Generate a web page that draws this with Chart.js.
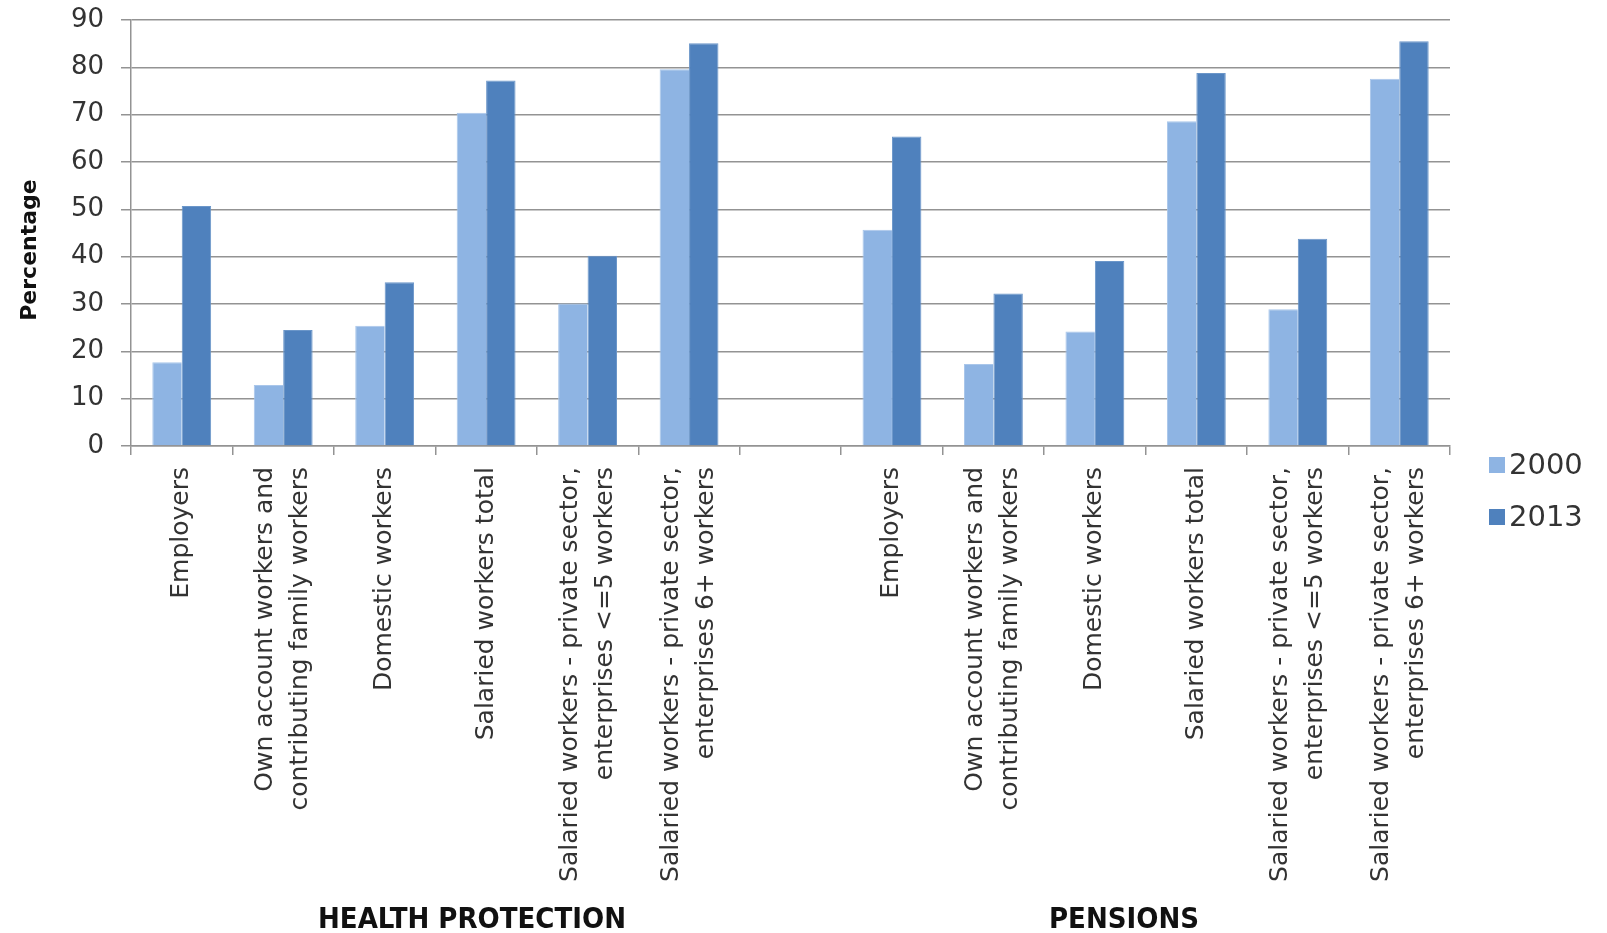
<!DOCTYPE html>
<html>
<head>
<meta charset="utf-8">
<title>Health protection and pensions coverage</title>
<script src="https://cdn.jsdelivr.net/npm/chart.js@4.4.1/dist/chart.umd.min.js"></script>
<style>
  html, body { margin: 0; padding: 0; background: #fff; }
  #wrap { width: 1607px; height: 933px; position: relative; }
</style>
</head>
<body>
<div id="wrap"><canvas id="coverageChart"></canvas></div>
<script>
// Categories (blank slot between the two groups)
const categories = [
    "Employers",
    ["Own account workers and", "contributing family workers"],
    "Domestic workers",
    "Salaried workers total",
    ["Salaried workers - private sector,", "enterprises <=5 workers"],
    ["Salaried workers - private sector,", "enterprises 6+ workers"],
    "",
    "Employers",
    ["Own account workers and", "contributing family workers"],
    "Domestic workers",
    "Salaried workers total",
    ["Salaried workers - private sector,", "enterprises <=5 workers"],
    ["Salaried workers - private sector,", "enterprises 6+ workers"]
];

// Series values (percent)
const values2000 = [17.7, 12.9, 25.4, 70.4, 30.1, 79.6, null, 45.7, 17.3, 24.2, 68.6, 28.9, 77.6];
const values2013 = [50.7, 24.5, 34.6, 77.2, 40.2, 85.1, null, 65.4, 32.2, 39.1, 78.8, 43.8, 85.5];

const seriesNames = ["2000", "2013"];
const groupTitles = ["HEALTH PROTECTION", "PENSIONS"];
const yTicks = [0, 10, 20, 30, 40, 50, 60, 70, 80, 90];
const yTitle = "Percentage";

const textColor = '#333';
const gridColor = '#939393';
const labelFont = '25px "DejaVu Sans", sans-serif';

// Rotated category labels, centred on each category
const categoryLabelPlugin = {
    id: 'categoryLabels',
    afterDraw(chart) {
        const ctx = chart.ctx;
        const xScale = chart.scales.x;
        const lineHeight = 35;
        const top = chart.chartArea.bottom + 21;
        ctx.save();
        ctx.fillStyle = textColor;
        ctx.font = labelFont;
        ctx.textAlign = 'right';
        ctx.textBaseline = 'middle';
        categories.forEach((label, i) => {
            const lines = Array.isArray(label) ? label : [label];
            const x = xScale.getPixelForTick(i);
            ctx.save();
            ctx.translate(x, top);
            ctx.rotate(-Math.PI / 2);
            lines.forEach((line, j) => {
                ctx.fillText(line, 0, (j - (lines.length - 1) / 2) * lineHeight);
            });
            ctx.restore();
        });
        ctx.restore();
    }
};

// Group titles and the y axis title
const titlePlugin = {
    id: 'titles',
    afterDraw(chart) {
        const ctx = chart.ctx;
        ctx.save();
        ctx.fillStyle = '#111';
        ctx.font = 'bold 29px "Liberation Sans Narrow", "DejaVu Sans Condensed", sans-serif';
        ctx.textAlign = 'center';
        ctx.textBaseline = 'middle';
        ctx.fillText(groupTitles[0], 472, 920);
        ctx.fillText(groupTitles[1], 1124, 920);

        ctx.font = 'bold 22px "DejaVu Sans", sans-serif';
        ctx.translate(30, 250);
        ctx.rotate(-Math.PI / 2);
        ctx.fillText(yTitle, 0, 0);
        ctx.restore();
    }
};

// Legend to the right, below the axis line
const legendPlugin = {
    id: 'sideLegend',
    afterDraw(chart) {
        const ctx = chart.ctx;
        const x = chart.chartArea.right + 39;
        const rows = [465, 517];
        ctx.save();
        ctx.font = '29px "DejaVu Sans", sans-serif';
        ctx.textAlign = 'left';
        ctx.textBaseline = 'middle';
        chart.data.datasets.forEach((ds, i) => {
            ctx.fillStyle = ds.backgroundColor;
            ctx.fillRect(x, rows[i] - 8, 16, 16);
            ctx.fillStyle = textColor;
            ctx.fillText(ds.label, x + 20, rows[i] + 1);
        });
        ctx.restore();
    }
};

function initializeChart() {
    const ctx = document.getElementById('coverageChart').getContext('2d');

    new Chart(ctx, {
        type: 'bar',
        data: {
            labels: categories,
            datasets: [{
                label: seriesNames[0],
                data: values2000,
                backgroundColor: '#8EB4E3',
                borderColor: '#a9c6ea',
                borderWidth: { left: 1, right: 0, top: 1, bottom: 0 },
                categoryPercentage: 0.58,
                barPercentage: 1.0
            }, {
                label: seriesNames[1],
                data: values2013,
                backgroundColor: '#4F81BD',
                borderColor: '#6b96c9',
                borderWidth: { left: 1, right: 1, top: 1, bottom: 0 },
                categoryPercentage: 0.58,
                barPercentage: 1.0
            }]
        },
        options: {
            responsive: true,
            maintainAspectRatio: false,
            animation: false,
            layout: {
                padding: { top: 20, right: 157, bottom: 0, left: 0 }
            },
            plugins: {
                tooltip: { enabled: false },
                legend: { display: false }
            },
            scales: {
                x: {
                    afterFit(scale) {
                        scale.height = 487;
                        scale.paddingLeft = 0;
                        scale.paddingRight = 0;
                    },
                    grid: {
                        display: true,
                        drawOnChartArea: false,
                        drawTicks: true,
                        tickLength: 9,
                        color: gridColor,
                        lineWidth: 1.5,
                        offset: true
                    },
                    border: { color: gridColor, width: 1.5 },
                    ticks: { display: false }
                },
                y: {
                    min: 0,
                    max: 90,
                    afterBuildTicks(scale) {
                        scale.ticks = yTicks.map(v => ({ value: v }));
                    },
                    afterFit(scale) {
                        scale.width = 131;
                        scale.paddingTop = 0;
                        scale.paddingBottom = 0;
                    },
                    grid: {
                        color: gridColor,
                        lineWidth: 1.5,
                        tickLength: 10
                    },
                    border: { color: gridColor, width: 1.5 },
                    ticks: {
                        color: textColor,
                        font: { family: '"DejaVu Sans", sans-serif', size: 26 },
                        padding: 17
                    }
                }
            }
        },
        plugins: [categoryLabelPlugin, titlePlugin, legendPlugin]
    });
}

window.onload = function() {
    initializeChart();
};
</script>
</body>
</html>
